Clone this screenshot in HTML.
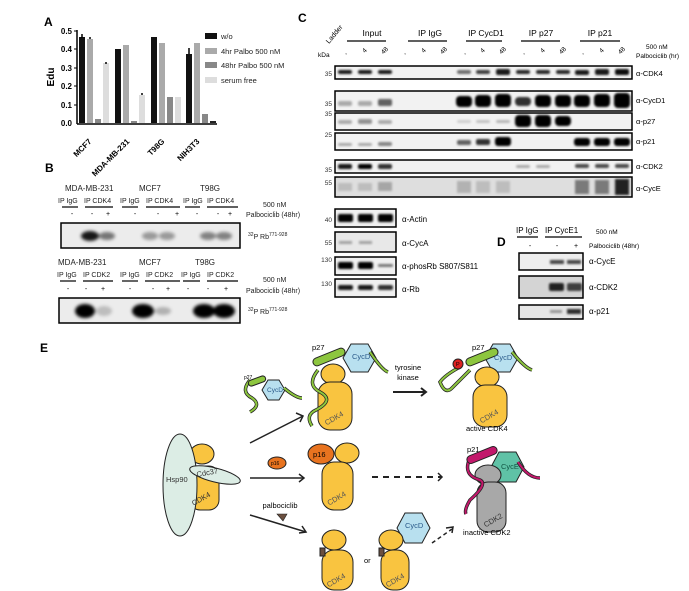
<!DOCTYPE html>
<html><head><meta charset="utf-8"><style>
html,body{margin:0;padding:0;background:#fff}
svg{display:block;font-family:"Liberation Sans",Arial,sans-serif}
</style></head><body>
<svg width="689" height="591" viewBox="0 0 689 591" xmlns="http://www.w3.org/2000/svg">
<defs><filter id="bl" x="-20%" y="-50%" width="140%" height="200%"><feGaussianBlur stdDeviation="1"/></filter>
<filter id="bl2" x="-20%" y="-50%" width="140%" height="200%"><feGaussianBlur stdDeviation="1.5"/></filter></defs>
<!-- Panel A -->
<text x="44" y="26" font-size="12" font-weight="bold">A</text>
<g font-size="8" font-weight="bold" text-anchor="end">
<text x="72" y="34">0.5</text><text x="72" y="52">0.4</text><text x="72" y="71">0.3</text><text x="72" y="89">0.2</text><text x="72" y="108">0.1</text><text x="72" y="126">0.0</text>
</g>
<text x="54" y="77" font-size="10" font-weight="bold" transform="rotate(-90 54 77)" text-anchor="middle">Edu</text>
<line x1="77" y1="30" x2="77" y2="124" stroke="#000" stroke-width="1.5"/>
<line x1="77" y1="124" x2="217" y2="124" stroke="#000" stroke-width="1.5"/>
<g stroke="#000" stroke-width="1"><line x1="74" y1="31" x2="77" y2="31"/><line x1="74" y1="49" x2="77" y2="49"/><line x1="74" y1="68" x2="77" y2="68"/><line x1="74" y1="86" x2="77" y2="86"/><line x1="74" y1="105" x2="77" y2="105"/></g>
<g>
<rect x="79" y="37" width="6" height="86" fill="#111"/><rect x="87" y="39" width="6" height="84" fill="#aaa"/><rect x="95" y="119" width="6" height="4" fill="#888"/><rect x="103" y="63" width="6" height="60" fill="#ddd"/>
<rect x="115" y="49" width="6" height="74" fill="#111"/><rect x="123" y="45" width="6" height="78" fill="#aaa"/><rect x="131" y="121" width="6" height="2" fill="#888"/><rect x="139" y="95" width="6" height="28" fill="#ddd"/>
<rect x="151" y="37" width="6" height="86" fill="#111"/><rect x="159" y="43" width="6" height="80" fill="#aaa"/><rect x="167" y="97" width="6" height="26" fill="#888"/><rect x="175" y="97" width="6" height="26" fill="#ddd"/>
<rect x="186" y="54" width="6" height="69" fill="#111"/><rect x="194" y="43" width="6" height="80" fill="#aaa"/><rect x="202" y="114" width="6" height="9" fill="#888"/><rect x="210" y="121" width="6" height="2" fill="#222"/>
</g>
<g stroke="#000" stroke-width="1.5"><line x1="82" y1="34" x2="82" y2="38"/><line x1="90" y1="37" x2="90" y2="39"/><line x1="106" y1="62" x2="106" y2="64"/><line x1="142" y1="93" x2="142" y2="95"/><line x1="189" y1="48" x2="189" y2="54"/></g>
<g font-size="8" font-weight="bold">
<text transform="translate(92 142) rotate(-45)" text-anchor="end">MCF7</text>
<text transform="translate(130 142) rotate(-45)" text-anchor="end">MDA-MB-231</text>
<text transform="translate(165 142) rotate(-45)" text-anchor="end">T98G</text>
<text transform="translate(200 142) rotate(-45)" text-anchor="end">NIH3T3</text>
</g>
<g font-size="7.5" fill="#222">
<rect x="205" y="33" width="12" height="6" fill="#111"/><text x="221" y="39">w/o</text>
<rect x="205" y="48" width="12" height="6" fill="#aaa"/><text x="221" y="54">4hr Palbo 500 nM</text>
<rect x="205" y="62" width="12" height="6" fill="#888"/><text x="221" y="68">48hr Palbo 500 nM</text>
<rect x="205" y="77" width="12" height="6" fill="#ddd"/><text x="221" y="83">serum free</text>
</g>
<!-- Panel B -->
<text x="45" y="172" font-size="12" font-weight="bold">B</text>
<g font-size="8" fill="#222">
<text x="65" y="191">MDA-MB-231</text><text x="139" y="191">MCF7</text><text x="200" y="191">T98G</text>
<text x="58" y="203" font-size="7">IP IgG</text><text x="84" y="203" font-size="7">IP CDK4</text><text x="120" y="203" font-size="7">IP IgG</text><text x="146" y="203" font-size="7">IP CDK4</text><text x="183" y="203" font-size="7">IP IgG</text><text x="207" y="203" font-size="7">IP CDK4</text>
<text x="263" y="207" font-size="7">500 nM</text><text x="246" y="217" font-size="7">Palbociclib (48hr)</text>
<text x="248" y="239" font-size="7"><tspan font-size="5" dy="-3">32</tspan><tspan dy="3">P Rb</tspan><tspan font-size="5" dy="-3">771-928</tspan></text>
<text x="58" y="265">MDA-MB-231</text><text x="139" y="265">MCF7</text><text x="195" y="265">T98G</text>
<text x="57" y="277" font-size="7">IP IgG</text><text x="83" y="277" font-size="7">IP CDK2</text><text x="120" y="277" font-size="7">IP IgG</text><text x="146" y="277" font-size="7">IP CDK2</text><text x="181" y="277" font-size="7">IP IgG</text><text x="207" y="277" font-size="7">IP CDK2</text>
<text x="263" y="282" font-size="7">500 nM</text><text x="246" y="293" font-size="7">Palbociclib (48hr)</text>
<text x="248" y="314" font-size="7"><tspan font-size="5" dy="-3">32</tspan><tspan dy="3">P Rb</tspan><tspan font-size="5" dy="-3">771-928</tspan></text>
</g>
<g stroke="#000" stroke-width="1.2">
<line x1="62" y1="207" x2="78" y2="207"/><line x1="85" y1="207" x2="113" y2="207"/><line x1="122" y1="207" x2="138" y2="207"/><line x1="146" y1="207" x2="180" y2="207"/><line x1="185" y1="207" x2="200" y2="207"/><line x1="207" y1="207" x2="238" y2="207"/>
<line x1="60" y1="281" x2="76" y2="281"/><line x1="83" y1="281" x2="113" y2="281"/><line x1="122" y1="281" x2="138" y2="281"/><line x1="145" y1="281" x2="180" y2="281"/><line x1="183" y1="281" x2="200" y2="281"/><line x1="207" y1="281" x2="238" y2="281"/>
</g>
<g font-size="7" text-anchor="middle">
<text x="72" y="216">-</text><text x="92" y="216">-</text><text x="108" y="216">+</text><text x="135" y="216">-</text><text x="158" y="216">-</text><text x="177" y="216">+</text><text x="197" y="216">-</text><text x="218" y="216">-</text><text x="230" y="216">+</text>
<text x="68" y="291">-</text><text x="86" y="291">-</text><text x="103" y="291">+</text><text x="130" y="291">-</text><text x="153" y="291">-</text><text x="168" y="291">+</text><text x="188" y="291">-</text><text x="208" y="291">-</text><text x="226" y="291">+</text>
</g>
<rect x="61" y="223" width="179" height="25" fill="#ececec" stroke="#000" stroke-width="1.5"/>
<g fill="#000" filter="url(#bl2)"><ellipse cx="90" cy="236" rx="9" ry="5" opacity=".9"/><ellipse cx="107" cy="236" rx="8" ry="4" opacity=".5"/><ellipse cx="150" cy="236" rx="8" ry="4" opacity=".35"/><ellipse cx="167" cy="236" rx="8" ry="4" opacity=".35"/><ellipse cx="208" cy="236" rx="8" ry="4" opacity=".45"/><ellipse cx="224" cy="236" rx="8" ry="4" opacity=".45"/></g>
<rect x="59" y="298" width="181" height="25" fill="#ececec" stroke="#000" stroke-width="1.5"/>
<g fill="#000" filter="url(#bl2)"><ellipse cx="85" cy="311" rx="10" ry="7"/><ellipse cx="104" cy="311" rx="8" ry="5" opacity=".2"/><ellipse cx="143" cy="311" rx="11" ry="7"/><ellipse cx="163" cy="311" rx="8" ry="4" opacity=".25"/><ellipse cx="204" cy="311" rx="11" ry="7"/><ellipse cx="224" cy="311" rx="11" ry="7"/></g>
<!-- Panel C -->
<text x="298" y="22" font-size="12" font-weight="bold">C</text>
<text transform="translate(329 44) rotate(-50)" font-size="7">Ladder</text>
<text x="318" y="57" font-size="6.5">kDa</text>
<g font-size="8.5" text-anchor="middle">
<text x="372" y="36">Input</text><text x="430" y="36">IP IgG</text><text x="486" y="36">IP CycD1</text><text x="541" y="36">IP p27</text><text x="600" y="36">IP p21</text>
</g>
<g stroke="#000" stroke-width="1.2"><line x1="347" y1="41" x2="386" y2="41"/><line x1="408" y1="41" x2="447" y2="41"/><line x1="466" y1="41" x2="502" y2="41"/><line x1="521" y1="41" x2="560" y2="41"/><line x1="580" y1="41" x2="620" y2="41"/></g>
<g font-size="6.5" text-anchor="middle">
<text x="346" y="54">,</text><text transform="translate(366 52) rotate(-45)">4</text><text transform="translate(386 52) rotate(-45)">48</text>
<text x="405" y="54">,</text><text transform="translate(425 52) rotate(-45)">4</text><text transform="translate(445 52) rotate(-45)">48</text>
<text x="465" y="54">,</text><text transform="translate(484 52) rotate(-45)">4</text><text transform="translate(504 52) rotate(-45)">48</text>
<text x="524" y="54">,</text><text transform="translate(544 52) rotate(-45)">4</text><text transform="translate(564 52) rotate(-45)">48</text>
<text x="583" y="54">,</text><text transform="translate(603 52) rotate(-45)">4</text><text transform="translate(623 52) rotate(-45)">48</text>
</g>
<text x="646" y="49" font-size="6.5">500 nM</text><text x="636" y="58" font-size="6.5">Palbociclib (hr)</text>
<g font-size="6.5" text-anchor="end" fill="#333"><text x="332" y="76">35</text><text x="332" y="106">35</text><text x="332" y="116">35</text><text x="332" y="137">25</text><text x="332" y="172">35</text><text x="332" y="185">55</text>
<text x="332" y="222">40</text><text x="332" y="245">55</text><text x="332" y="262">130</text><text x="332" y="286">130</text></g>
<g fill="#f2f2f2" stroke="#000" stroke-width="1.5">
<rect x="335" y="66" width="297" height="13"/><rect x="335" y="91" width="297" height="20"/><rect x="335" y="113" width="297" height="17"/><rect x="335" y="133" width="297" height="17"/><rect x="335" y="160" width="297" height="13"/><rect x="335" y="177" width="297" height="20" fill="#dedede"/>
</g>
<g fill="#000" filter="url(#bl)">
<rect x="338" y="70" width="14" height="4" rx="2" opacity=".9"/><rect x="358" y="70" width="14" height="4" rx="2" opacity=".9"/><rect x="378" y="70" width="14" height="4" rx="2" opacity=".9"/>
<rect x="457" y="70" width="14" height="4" rx="2" opacity=".55"/><rect x="476" y="70" width="14" height="4" rx="2" opacity=".75"/><rect x="496" y="69" width="14" height="6" rx="2" opacity=".9"/><rect x="516" y="70" width="14" height="4" rx="2" opacity=".85"/><rect x="536" y="70" width="14" height="4" rx="2" opacity=".85"/><rect x="556" y="70" width="14" height="4" rx="2" opacity=".85"/><rect x="575" y="70" width="14" height="5" rx="2" opacity=".9"/><rect x="595" y="69" width="14" height="6" rx="2" opacity=".9"/><rect x="615" y="69" width="14" height="6" rx="2" opacity=".95"/>
<rect x="338" y="101" width="14" height="5" rx="2" opacity=".3"/><rect x="358" y="101" width="14" height="5" rx="2" opacity=".3"/><rect x="378" y="99" width="14" height="7" rx="2" opacity=".6"/>
<rect x="456" y="96" width="16" height="11" rx="4"/><rect x="475" y="95" width="16" height="12" rx="4"/><rect x="495" y="94" width="16" height="13" rx="4"/><rect x="515" y="97" width="16" height="9" rx="4" opacity=".8"/><rect x="535" y="95" width="16" height="12" rx="4"/><rect x="555" y="95" width="16" height="12" rx="4"/><rect x="574" y="95" width="16" height="12" rx="4"/><rect x="594" y="94" width="16" height="13" rx="4"/><rect x="614" y="93" width="16" height="15" rx="4"/>
<rect x="338" y="120" width="14" height="4" rx="2" opacity=".3"/><rect x="358" y="119" width="14" height="5" rx="2" opacity=".4"/><rect x="378" y="120" width="14" height="4" rx="2" opacity=".3"/>
<rect x="457" y="120" width="14" height="3" rx="2" opacity=".15"/><rect x="476" y="120" width="14" height="3" rx="2" opacity=".2"/><rect x="496" y="120" width="14" height="3" rx="2" opacity=".25"/>
<rect x="515" y="115" width="16" height="12" rx="4"/><rect x="535" y="115" width="16" height="12" rx="4"/><rect x="555" y="116" width="16" height="10" rx="4"/>
<rect x="338" y="143" width="14" height="3" rx="2" opacity=".3"/><rect x="358" y="143" width="14" height="3" rx="2" opacity=".3"/><rect x="378" y="142" width="14" height="4" rx="2" opacity=".45"/>
<rect x="457" y="140" width="14" height="5" rx="2" opacity=".6"/><rect x="476" y="139" width="14" height="6" rx="2" opacity=".8"/><rect x="495" y="137" width="16" height="9" rx="3"/>
<rect x="574" y="138" width="16" height="8" rx="3"/><rect x="594" y="138" width="16" height="8" rx="3"/><rect x="614" y="138" width="16" height="8" rx="3"/>
<rect x="338" y="164" width="14" height="5" rx="2" opacity=".9"/><rect x="358" y="164" width="14" height="5" rx="2"/><rect x="378" y="164" width="14" height="5" rx="2" opacity=".8"/>
<rect x="516" y="165" width="14" height="3" rx="2" opacity=".3"/><rect x="536" y="165" width="14" height="3" rx="2" opacity=".3"/>
<rect x="575" y="164" width="14" height="4" rx="2" opacity=".7"/><rect x="595" y="164" width="14" height="4" rx="2" opacity=".7"/><rect x="615" y="164" width="14" height="4" rx="2" opacity=".7"/>
<rect x="338" y="183" width="14" height="8" opacity=".15"/><rect x="358" y="183" width="14" height="8" opacity=".15"/><rect x="378" y="182" width="14" height="9" opacity=".25"/>
<rect x="457" y="181" width="14" height="12" opacity=".2"/><rect x="476" y="181" width="14" height="12" opacity=".15"/><rect x="496" y="181" width="14" height="12" opacity=".15"/>
<rect x="575" y="180" width="14" height="14" opacity=".45"/><rect x="595" y="180" width="14" height="14" opacity=".45"/><rect x="615" y="179" width="14" height="16" opacity=".85"/>
</g>
<g font-size="7.5"><text x="636" y="76">α-CDK4</text><text x="636" y="103">α-CycD1</text><text x="636" y="124">α-p27</text><text x="636" y="144">α-p21</text><text x="636" y="169">α-CDK2</text><text x="636" y="191">α-CycE</text></g>
<g fill="#f0f0f0" stroke="#000" stroke-width="1.5"><rect x="335" y="209" width="61" height="18"/><rect x="335" y="232" width="61" height="20" fill="#e8e8e8"/><rect x="335" y="257" width="61" height="18"/><rect x="335" y="279" width="61" height="18"/></g>
<g fill="#000" filter="url(#bl)">
<rect x="338" y="214" width="15" height="8" rx="2"/><rect x="358" y="214" width="15" height="8" rx="2"/><rect x="378" y="214" width="15" height="8" rx="2"/>
<rect x="339" y="241" width="13" height="3" opacity=".3"/><rect x="359" y="241" width="13" height="3" opacity=".3"/>
<rect x="338" y="262" width="15" height="7" rx="2"/><rect x="358" y="262" width="15" height="7" rx="2"/><rect x="378" y="264" width="15" height="3" rx="1" opacity=".5"/>
<rect x="338" y="285" width="15" height="5" rx="2" opacity=".9"/><rect x="358" y="285" width="15" height="5" rx="2" opacity=".9"/><rect x="378" y="285" width="15" height="5" rx="2" opacity=".8"/>
</g>
<g font-size="8"><text x="402" y="222">α-Actin</text><text x="402" y="246">α-CycA</text><text x="402" y="269">α-phosRb S807/S811</text><text x="402" y="292">α-Rb</text></g>
<!-- Panel D -->
<text x="497" y="246" font-size="12" font-weight="bold">D</text>
<g font-size="8"><text x="516" y="233">IP IgG</text><text x="545" y="233">IP CycE1</text></g>
<g stroke="#000" stroke-width="1.2"><line x1="517" y1="237" x2="538" y2="237"/><line x1="545" y1="237" x2="582" y2="237"/></g>
<text x="596" y="234" font-size="6.5">500 nM</text><text x="589" y="248" font-size="6.5">Palbociclib (48hr)</text>
<g font-size="7" text-anchor="middle"><text x="530" y="248">-</text><text x="557" y="248">-</text><text x="576" y="248">+</text></g>
<g fill="#eee" stroke="#000" stroke-width="1.5"><rect x="519" y="253" width="64" height="17"/><rect x="519" y="276" width="64" height="22" fill="#d4d4d4"/><rect x="519" y="305" width="64" height="14" fill="#e6e6e6"/></g>
<g fill="#000" filter="url(#bl)"><rect x="550" y="260" width="14" height="4" opacity=".7"/><rect x="567" y="260" width="14" height="4" opacity=".7"/>
<rect x="549" y="283" width="15" height="8" rx="2" opacity=".85"/><rect x="567" y="283" width="15" height="8" rx="2" opacity=".7"/>
<rect x="550" y="310" width="12" height="3" opacity=".35"/><rect x="567" y="309" width="14" height="5" opacity=".8"/></g>
<g font-size="8"><text x="589" y="264">α-CycE</text><text x="589" y="290">α-CDK2</text><text x="589" y="314">α-p21</text></g>
<!-- Panel E -->
<text x="40" y="352" font-size="12" font-weight="bold">E</text>
<g stroke="#222" stroke-width="1">
<ellipse cx="202" cy="454" rx="12" ry="10" fill="#f9c440"/>
<rect x="190" y="466" width="29" height="44" rx="10" fill="#f9c440"/>
<ellipse cx="180" cy="485" rx="17" ry="51" fill="#dcede5"/>
<ellipse cx="215" cy="475" rx="26" ry="7" fill="#dcede5" transform="rotate(14 215 475)"/>
</g>
<g font-size="7.5" fill="#333"><text x="166" y="482">Hsp90</text><text x="197" y="477" transform="rotate(-10 197 477)">Cdc37</text><text x="192" y="500" transform="rotate(-30 204 500)">CDK4</text></g>
<polygon points="262,390 268,380 279,380 285,390 279,400 268,400" fill="#b8e0ef" stroke="#222"/>
<path d="M250,380 Q240,392 252,398 Q262,405 250,412 M284,388 Q296,398 302,398" fill="none" stroke="#222" stroke-width="3.5"/>
<path d="M250,380 Q240,392 252,398 Q262,405 250,412 M284,388 Q296,398 302,398" fill="none" stroke="#8dc63f" stroke-width="2"/>
<rect x="248" y="378" width="18" height="6" rx="3" fill="#8dc63f" stroke="#222" transform="rotate(-20 257 381)"/>
<text x="244" y="379" font-size="5">p27</text><text x="267" y="392" font-size="6.5" fill="#2a5a8a">CycD</text>
<g stroke="#222" stroke-width="1.5" fill="none">
<line x1="250" y1="443" x2="303" y2="416"/><polyline points="296,413 303,416 300,422"/>
<line x1="250" y1="478" x2="304" y2="478"/><polyline points="299,474 304,478 299,482"/>
<line x1="250" y1="515" x2="306" y2="532"/><polyline points="299,533 306,532 302,526"/>
<line x1="393" y1="392" x2="426" y2="392" stroke-width="2"/><polyline points="421,388 426,392 421,396" stroke-width="2"/>
<line x1="372" y1="477" x2="442" y2="477" stroke-dasharray="6,5" stroke-width="2"/><polyline points="438,473 442,477 438,481"/>
<line x1="432" y1="543" x2="452" y2="529" stroke-dasharray="4,3"/><polyline points="446,528 453,527 452,533"/>
</g>
<polygon points="343,358 351,344 368,344 376,358 368,372 351,372" fill="#b8e0ef" stroke="#222"/>
<g stroke="#222" stroke-width="1"><ellipse cx="333" cy="374" rx="12" ry="10" fill="#f9c440"/><rect x="318" y="382" width="34" height="48" rx="12" fill="#f9c440"/></g>
<path d="M318,370 Q306,385 320,392 Q335,400 316,410 Q305,415 312,426 M370,352 Q382,370 388,372" fill="none" stroke="#222" stroke-width="3.5"/>
<path d="M318,370 Q306,385 320,392 Q335,400 316,410 Q305,415 312,426 M370,352 Q382,370 388,372" fill="none" stroke="#8dc63f" stroke-width="2"/>
<rect x="312" y="353" width="34" height="8" rx="4" fill="#8dc63f" stroke="#222" transform="rotate(-22 329 357)"/>
<text x="312" y="350" font-size="7.5">p27</text><text x="352" y="359" font-size="7.5" fill="#2a5a8a">CycD</text><text x="323" y="420" font-size="7.5" fill="#555" transform="rotate(-30 335 416)">CDK4</text>
<text x="408" y="370" font-size="7.5" text-anchor="middle">tyrosine</text><text x="408" y="380" font-size="7.5" text-anchor="middle">kinase</text>
<polygon points="485,358 493,344 510,344 518,358 510,372 493,372" fill="#b8e0ef" stroke="#222"/>
<g stroke="#222" stroke-width="1"><ellipse cx="487" cy="377" rx="12" ry="10" fill="#f9c440"/><rect x="473" y="385" width="34" height="42" rx="12" fill="#f9c440"/></g>
<path d="M460,367 Q445,375 440,382 Q445,395 452,388 Q460,380 470,370 M512,352 Q525,368 532,370" fill="none" stroke="#222" stroke-width="3.5"/>
<path d="M460,367 Q445,375 440,382 Q445,395 452,388 Q460,380 470,370 M512,352 Q525,368 532,370" fill="none" stroke="#8dc63f" stroke-width="2"/>
<rect x="465" y="353" width="34" height="8" rx="4" fill="#8dc63f" stroke="#222" transform="rotate(-22 482 357)"/>
<circle cx="458" cy="364" r="5" fill="#d22" stroke="#222"/><text x="456" y="366" font-size="5.5">P</text>
<text x="472" y="350" font-size="7.5">p27</text><text x="494" y="360" font-size="7.5" fill="#2a5a8a">CycD</text><text x="478" y="418" font-size="7.5" fill="#555" transform="rotate(-30 490 414)">CDK4</text>
<text x="466" y="431" font-size="7.5">active CDK4</text>
<ellipse cx="277" cy="463" rx="9" ry="6" fill="#e8731f" stroke="#222"/><text x="271" y="465" font-size="5">p16</text>
<g stroke="#222" stroke-width="1"><ellipse cx="347" cy="453" rx="12" ry="10" fill="#f9c440"/><rect x="322" y="462" width="31" height="48" rx="12" fill="#f9c440"/><ellipse cx="321" cy="454" rx="13" ry="10" fill="#e8731f"/></g>
<text x="313" y="457" font-size="7.5">p16</text><text x="326" y="500" font-size="7.5" fill="#555" transform="rotate(-30 338 497)">CDK4</text>
<polygon points="491,467 499,452 516,452 524,467 516,482 499,482" fill="#5fc2a6" stroke="#222"/>
<g stroke="#222" stroke-width="1"><ellipse cx="488" cy="475" rx="13" ry="10" fill="#a8a8a8"/><rect x="477" y="482" width="29" height="50" rx="11" fill="#a8a8a8"/></g>
<path d="M470,458 Q462,475 480,480 Q488,484 470,500 Q464,510 466,514 M518,462 Q528,478 540,478" fill="none" stroke="#222" stroke-width="3.5"/>
<path d="M470,458 Q462,475 480,480 Q488,484 470,500 Q464,510 466,514 M518,462 Q528,478 540,478" fill="none" stroke="#c2186b" stroke-width="2"/>
<rect x="466" y="451" width="32" height="8" rx="4" fill="#c2186b" stroke="#222" transform="rotate(-22 482 455)"/>
<text x="467" y="452" font-size="7.5">p21</text><text x="501" y="469" font-size="7.5" fill="#154">CycE</text><text x="482" y="522" font-size="7.5" fill="#333" transform="rotate(-30 494 518)">CDK2</text>
<text x="463" y="535" font-size="7.5">inactive CDK2</text>
<text x="280" y="508" font-size="7.5" text-anchor="middle">palbociclib</text>
<polygon points="277,514 287,514 283,521" fill="#6b4f3f" stroke="#222" stroke-width=".6"/>
<g stroke="#222" stroke-width="1"><ellipse cx="334" cy="540" rx="12" ry="10" fill="#f9c440"/><rect x="322" y="550" width="31" height="40" rx="12" fill="#f9c440"/>
<rect x="320" y="548" width="5" height="8" fill="#6b4f3f"/>
<polygon points="397,528 405,513 422,513 430,528 422,543 405,543" fill="#b8e0ef"/>
<ellipse cx="391" cy="540" rx="12" ry="10" fill="#f9c440"/><rect x="381" y="550" width="28" height="40" rx="12" fill="#f9c440"/>
<rect x="379" y="548" width="5" height="8" fill="#6b4f3f"/></g>
<text x="405" y="528" font-size="7.5" fill="#2a5a8a">CycD</text>
<text x="364" y="563" font-size="7.5">or</text>
<text x="325" y="582" font-size="7.5" fill="#555" transform="rotate(-30 337 578)">CDK4</text>
<text x="384" y="582" font-size="7.5" fill="#555" transform="rotate(-30 396 578)">CDK4</text>
</svg>
</body></html>
